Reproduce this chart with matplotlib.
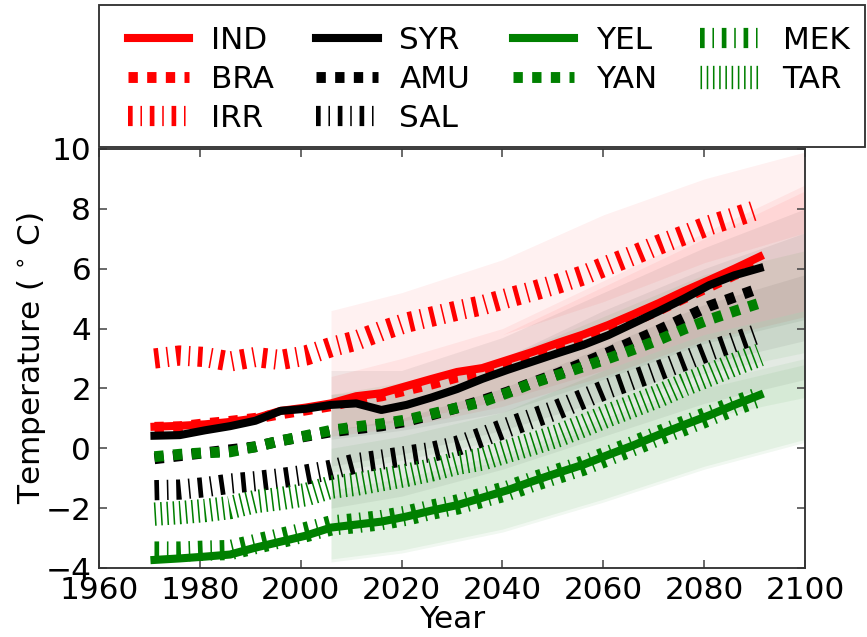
import matplotlib
matplotlib.use("Agg")
import matplotlib.pyplot as plt
from matplotlib.lines import Line2D
from matplotlib.legend_handler import HandlerLine2D
from matplotlib.patches import Rectangle

plt.rcParams['lines.scale_dashes'] = False
plt.rcParams['font.family'] = ['DejaVu Sans']

years = [1971, 1976, 1981, 1986, 1991, 1996, 2001, 2006, 2011, 2016, 2021, 2026, 2031,
         2036, 2041, 2046, 2051, 2056, 2061, 2066, 2071, 2076, 2081, 2086, 2091]

IND = [0.72, 0.75, 0.80, 0.88, 1.00, 1.25, 1.36, 1.50, 1.74, 1.84, 2.08, 2.32, 2.55,
       2.68, 2.95, 3.22, 3.52, 3.80, 4.12, 4.48, 4.85, 5.25, 5.62, 6.00, 6.40]
BRA = [0.70, 0.72, 0.82, 0.90, 1.00, 1.15, 1.28, 1.42, 1.62, 1.75, 1.95, 2.15, 2.38,
       2.52, 2.75, 3.02, 3.30, 3.58, 3.90, 4.25, 4.62, 5.02, 5.40, 5.80, 6.15]
IRR = [3.00, 3.10, 3.05, 2.90, 3.05, 2.95, 3.10, 3.38, 3.60, 3.92, 4.20, 4.40, 4.60,
       4.78, 5.02, 5.25, 5.50, 5.78, 6.12, 6.45, 6.80, 7.12, 7.45, 7.72, 8.00]
SYR = [0.42, 0.44, 0.60, 0.74, 0.92, 1.25, 1.32, 1.45, 1.50, 1.28, 1.45, 1.70, 1.98,
       2.32, 2.62, 2.90, 3.18, 3.45, 3.78, 4.18, 4.58, 5.00, 5.45, 5.78, 6.02]
AMU = [-0.35, -0.25, -0.15, -0.05, 0.05, 0.25, 0.40, 0.55, 0.65, 0.75, 0.90, 1.12, 1.35,
       1.60, 1.88, 2.20, 2.50, 2.85, 3.20, 3.58, 3.95, 4.35, 4.75, 5.05, 5.35]
SAL = [-1.40, -1.38, -1.30, -1.18, -1.10, -1.00, -0.88, -0.72, -0.50, -0.38, -0.25, -0.12, 0.08,
       0.38, 0.70, 1.00, 1.30, 1.65, 2.00, 2.30, 2.60, 2.92, 3.25, 3.55, 3.85]
YEL = [-3.73, -3.68, -3.62, -3.55, -3.32, -3.12, -2.92, -2.65, -2.55, -2.45, -2.28, -2.08, -1.90,
       -1.65, -1.40, -1.10, -0.82, -0.55, -0.22, 0.10, 0.45, 0.78, 1.10, 1.45, 1.78]
YAN = [-0.28, -0.20, -0.15, -0.12, 0.05, 0.25, 0.42, 0.60, 0.72, 0.82, 0.95, 1.15, 1.35,
       1.55, 1.85, 2.18, 2.45, 2.72, 3.00, 3.30, 3.62, 3.98, 4.30, 4.58, 4.85]
MEK = [-3.45, -3.45, -3.42, -3.40, -3.20, -3.00, -2.80, -2.58, -2.50, -2.40, -2.25, -2.05, -1.88,
       -1.65, -1.42, -1.12, -0.85, -0.58, -0.25, 0.08, 0.42, 0.75, 1.08, 1.42, 1.72]
TAR = [-2.20, -2.15, -2.08, -1.98, -1.78, -1.68, -1.55, -1.30, -1.20, -1.05, -0.90, -0.72, -0.50,
       -0.36, -0.10, 0.15, 0.42, 0.75, 1.10, 1.42, 1.75, 2.12, 2.45, 2.80, 3.12]

# ensemble spread (projection period)
band_years = [2006, 2020, 2040, 2060, 2080, 2100]
IND_lo = [0.6, 0.9, 1.6, 2.6, 3.8, 4.6]
IND_hi = [2.4, 3.0, 4.0, 5.6, 7.2, 8.8]
BRA_lo = [0.4, 0.7, 1.4, 2.4, 3.6, 4.4]
BRA_hi = [2.3, 2.9, 3.8, 5.4, 7.0, 8.6]
IRR_lo = [2.3, 2.9, 3.8, 4.9, 6.2, 7.2]
IRR_hi = [4.6, 5.2, 6.3, 7.8, 9.0, 9.9]
SYR_lo = [0.3, 0.6, 1.2, 2.3, 3.5, 4.3]
SYR_hi = [2.6, 2.6, 3.7, 5.2, 6.7, 8.0]
AMU_lo = [-0.6, -0.2, 0.6, 1.6, 2.8, 3.6]
AMU_hi = [1.8, 2.0, 3.0, 4.6, 6.0, 7.2]
SAL_lo = [-2.0, -1.6, -0.7, 0.4, 1.5, 2.3]
SAL_hi = [0.6, 1.0, 2.0, 3.4, 4.8, 5.8]
YEL_lo = [-3.8, -3.5, -2.8, -1.8, -0.7, 0.2]
YEL_hi = [-1.6, -1.2, -0.4, 0.8, 2.0, 2.8]
YAN_lo = [-0.8, -0.4, 0.3, 1.3, 2.5, 3.2]
YAN_hi = [1.8, 2.2, 3.0, 4.4, 5.8, 6.6]
MEK_lo = [-3.7, -3.4, -2.7, -1.7, -0.6, 0.3]
MEK_hi = [-1.4, -1.0, -0.2, 1.0, 2.2, 3.0]
TAR_lo = [-2.6, -2.2, -1.4, -0.2, 1.0, 1.7]
TAR_hi = [0.0, 0.4, 1.2, 2.6, 3.8, 4.6]

xticks = [1960, 1980, 2000, 2020, 2040, 2060, 2080, 2100]
yticks = [-4, -2, 0, 2, 4, 6, 8, 10]

W, H = 867, 637
DPI = 112
fig = plt.figure(figsize=(W / DPI, H / DPI), dpi=DPI)
ax = fig.add_axes([99 / W, 1 - 568 / H, (805 - 99) / W, (568 - 149) / H])

SOLID = dict(linestyle='-', lw=5.2)
DASH = dict(linestyle=(0, (6, 6)), lw=7)
DASHDOT = dict(linestyle=(0, (3, 5, 1, 5)), lw=13)
DOT = dict(linestyle=(0, (1, 3)), lw=15)

series = [
    ('IND', IND, IND_lo, IND_hi, 'red', SOLID),
    ('BRA', BRA, BRA_lo, BRA_hi, 'red', DASH),
    ('IRR', IRR, IRR_lo, IRR_hi, 'red', DASHDOT),
    ('SYR', SYR, SYR_lo, SYR_hi, 'black', SOLID),
    ('AMU', AMU, AMU_lo, AMU_hi, 'black', DASH),
    ('SAL', SAL, SAL_lo, SAL_hi, 'black', DASHDOT),
    ('YEL', YEL, YEL_lo, YEL_hi, 'green', SOLID),
    ('YAN', YAN, YAN_lo, YAN_hi, 'green', DASH),
    ('MEK', MEK, MEK_lo, MEK_hi, 'green', DASHDOT),
    ('TAR', TAR, TAR_lo, TAR_hi, 'green', DOT),
]

for name, vals, lo, hi, col, st in series:
    ax.fill_between(band_years, lo, hi, color=col, alpha=0.055, lw=0, zorder=1)

for name, vals, lo, hi, col, st in series:
    ax.plot(years, vals, color=col, label=name, zorder=3, **st)

ax.set_xlim(1960, 2100)
ax.set_ylim(-4, 10)
ax.set_xticks(xticks)
ax.set_yticks(yticks)
ax.tick_params(direction='in', length=5, width=1, labelsize=20, pad=5,
               top=True, right=True, color='#444444')
for sp in ax.spines.values():
    sp.set_linewidth(1.2)
    sp.set_color('#333333')
ax.set_xlabel('Year', fontsize=20, labelpad=0)
ax.set_ylabel(r'Temperature ($\,^\circ\,$C)', fontsize=20, labelpad=-2)

# legend frame drawn separately (figure pixels)
fig.patches.append(Rectangle((99 / W, 1 - 147 / H), (865 - 99) / W, (147 - 5) / H,
                             transform=fig.transFigure, facecolor='none',
                             edgecolor='#333333', lw=1.2, zorder=0))

leg = ax.legend(loc='lower left', ncol=4, fontsize=20, mode='expand',
                bbox_to_anchor=(102 / W, 1 - 152 / H, (868 - 102) / W, 142 / H),
                bbox_transform=fig.transFigure, borderaxespad=0, borderpad=0.6,
                handlelength=2.2, handletextpad=0.7, labelspacing=0.33,
                handler_map={Line2D: HandlerLine2D(xpad=0.23)},
                frameon=False)
leg.set_zorder(10)

fig.savefig('out.png', dpi=DPI)
